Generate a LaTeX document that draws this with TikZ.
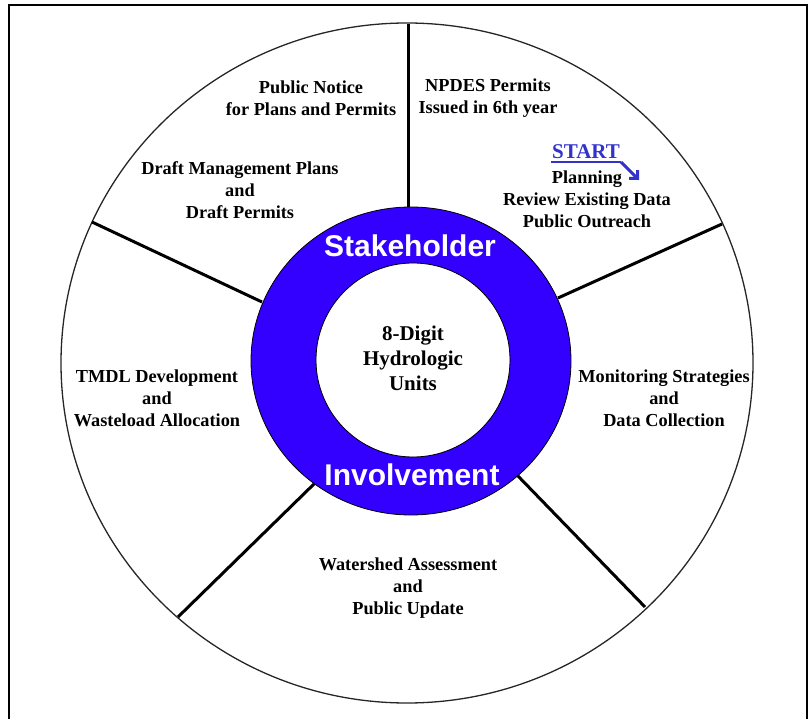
\documentclass[tikz,border=0pt]{standalone}
\usepackage{fontspec}
\setmainfont{Liberation Serif}
\newfontfamily\ringfont{Liberation Sans}
\usetikzlibrary{arrows.meta}
\definecolor{ringblue}{RGB}{51,0,255}
\definecolor{startblue}{RGB}{51,51,204}
\begin{document}
\begin{tikzpicture}[x=1pt,y=-1pt,
  lbl/.style={font=\fontsize{18.3}{22}\selectfont\bfseries, align=center, inner sep=0pt},
  centerlbl/.style={font=\fontsize{21}{25}\selectfont\bfseries, align=center, inner sep=0pt},
  ringlbl/.style={font=\ringfont\fontsize{30}{34}\selectfont\bfseries, text=white, inner sep=0pt},
  spoke/.style={line width=3pt},
  frame/.style={line width=2pt}]
\useasboundingbox (0,0) rectangle (812,719);
\draw[frame] (8.5,719) -- (8.5,5) -- (807,5) -- (807,719);
% outer circle
\draw[line width=1.3pt, black!85] (407,363) ellipse [x radius=346pt, y radius=340pt];
% spokes
\coordinate (r1) at (408,207); \coordinate (o1) at (408,24);
\coordinate (r2) at (558,298); \coordinate (o2) at (722,224);
\coordinate (r3) at (517,475); \coordinate (o3) at (645,607);
\coordinate (r4) at (315,483); \coordinate (o4) at (178,617);
\coordinate (r5) at (262,302); \coordinate (o5) at (92,222);
\foreach \i in {1,...,5} {\draw[spoke] (r\i) -- (o\i);}
% ring
\fill[ringblue, even odd rule] (411,361) ellipse [x radius=160pt, y radius=154pt]
   (413,360) circle [radius=97pt];
\draw[line width=0.8pt] (411,361) ellipse [x radius=160pt, y radius=154pt];
\draw[line width=0.8pt] (413,360) circle [radius=97pt];
\node[ringlbl] (stake) at (410,246) {Stakeholder};
\node[ringlbl] (invol) at (412,475) {Involvement};
\node[centerlbl] (hu) at (413,358) {8-Digit\\Hydrologic\\Units};
% labels
\node[lbl] (pn) at (311,98) {Public Notice\\for Plans and Permits};
\node[lbl] (np) at (488,98) {NPDES Permits\\Issued in 6th year};
\node[lbl] (dm) at (240,190) {Draft Management Plans\\and\\Draft Permits};
\node[lbl] (pl) at (587,199) {Planning\\Review Existing Data\\Public Outreach};
\node[lbl] (tm) at (157,398) {TMDL Development\\and\\Wasteload Allocation};
\node[lbl] (mo) at (664,398) {Monitoring Strategies\\and\\Data Collection};
\node[lbl] (ws) at (408,588) {Watershed Assessment\\and\\Public Update};
% START
\node[font=\fontsize{21}{25}\selectfont\bfseries, text=startblue, inner sep=0pt] (st) at (586,152) {START};
\coordinate (ul1) at (551,162);
\coordinate (ul2) at (621,162);
\coordinate (ae) at (639,180);
\draw[startblue, line width=1.6pt] (ul1) -- (ul2);
\draw[startblue, line width=3pt, -{Straight Barb[length=6pt,width=12pt]}] (ul2) -- (ae);
\end{tikzpicture}
\end{document}
